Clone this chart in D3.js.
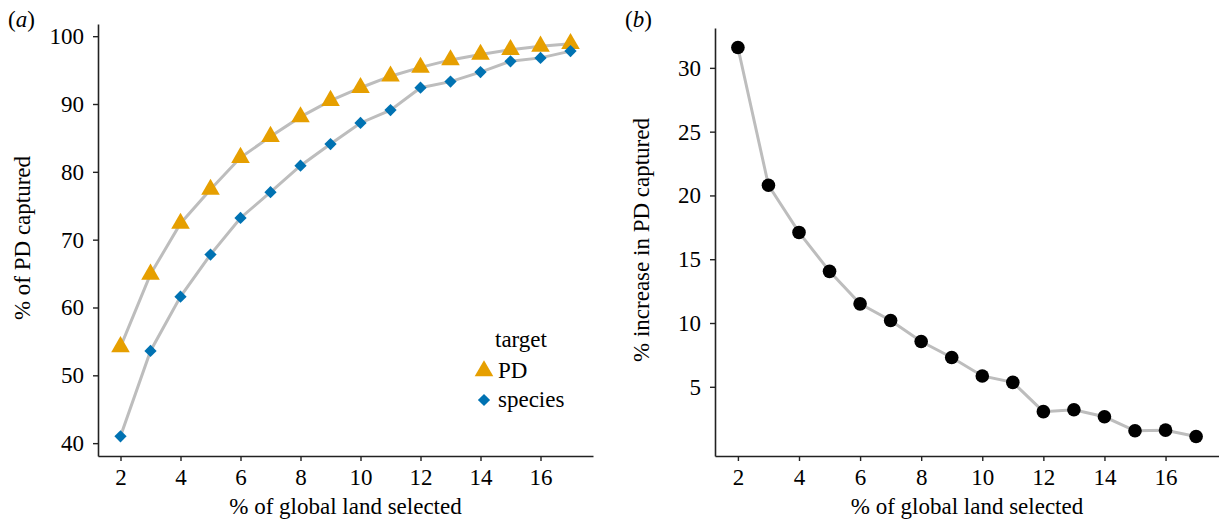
<!DOCTYPE html>
<html>
<head>
<meta charset="utf-8">
<script src="https://cdn.jsdelivr.net/npm/d3@7"></script>
<style>
  html body #chart text, html body #chart tspan { font-family: "Liberation Serif", "Times New Roman", Tinos, serif !important; }
</style>
</head>
<body style="margin:0">
<svg id="chart" width="1219" height="522" style="font-family: 'Liberation Serif', serif"></svg>
<script>
// % of global land selected
var landPct = [2, 3, 4, 5, 6, 7, 8, 9, 10, 11, 12, 13, 14, 15, 16, 17];
// panel a: % of PD captured, by target
var pdTarget      = [54.2, 64.9, 72.4, 77.4, 82.1, 85.2, 88.1, 90.5, 92.4, 94.1, 95.4, 96.5, 97.3, 98.0, 98.5, 98.9];
var speciesTarget = [41.0, 53.6, 61.6, 67.8, 73.2, 77.0, 80.9, 84.1, 87.2, 89.1, 92.4, 93.3, 94.7, 96.3, 96.8, 97.8];
// panel b: % increase in PD captured
var pdIncrease    = [31.6, 20.8, 17.1, 14.05, 11.5, 10.2, 8.55, 7.3, 5.85, 5.35, 3.05, 3.2, 2.65, 1.55, 1.6, 1.1];

var xTicks = [2, 4, 6, 8, 10, 12, 14, 16];
var yTicksA = [40, 50, 60, 70, 80, 90, 100];
var yTicksB = [5, 10, 15, 20, 25, 30];

var font = "'Liberation Serif', 'Times New Roman', Tinos, serif";
var fs = 23;

var diamond = {
  draw: function(ctx, size) {
    var r = Math.sqrt(size / 2);
    ctx.moveTo(0, -r); ctx.lineTo(r, 0); ctx.lineTo(0, r); ctx.lineTo(-r, 0); ctx.closePath();
  }
};

var seriesA = [
  {name: "PD", values: pdTarget, color: "#E69F00", shape: d3.symbolTriangle, size: 150},
  {name: "species", values: speciesTarget, color: "#0072B2", shape: diamond, size: 75}
];

var svg = d3.select("#chart");
var lineColor = "#bdbdbd";

// ggplot style 5% expansion
function padded(lo, hi) {
  var p = (hi - lo) * 0.05;
  return [lo - p, hi + p];
}

function label(sel) {
  return sel.attr("font-family", font)
    .attr("font-size", fs)
    .style("font-family", font, "important")
    .style("font-size", fs + "px");
}

function styleAxis(a) {
  a.attr("font-family", font).attr("font-size", fs);
  a.select(".domain").attr("stroke", "#222").attr("stroke-width", 1.6);
  a.selectAll(".tick line").attr("stroke", "#222").attr("stroke-width", 1.4);
  a.selectAll("text").call(label).attr("fill", "#000");
}

function drawAxes(g, x, y, yTicks, h) {
  g.append("g")
    .attr("transform", "translate(0," + h + ")")
    .call(d3.axisBottom(x).tickValues(xTicks).tickSize(5).tickSizeOuter(0).tickPadding(8))
    .call(styleAxis);
  g.append("g")
    .call(d3.axisLeft(y).tickValues(yTicks).tickSize(5).tickSizeOuter(0).tickPadding(9))
    .call(styleAxis);
}

// ---- panel a ----
var a = {left: 98, top: 24, width: 495, height: 432};
var xA = d3.scaleLinear().domain(padded(2, 17)).range([0, a.width]);
var yA = d3.scaleLinear().domain(padded(41.0, 98.9)).range([a.height, 0]);

var gA = svg.append("g").attr("transform", "translate(" + a.left + "," + a.top + ")");
drawAxes(gA, xA, yA, yTicksA, a.height);

var lineA = d3.line()
  .x(function(d, i) { return xA(landPct[i]); })
  .y(function(d) { return yA(d); });

seriesA.forEach(function(s) {
  gA.append("path")
    .attr("d", lineA(s.values))
    .attr("fill", "none")
    .attr("stroke", lineColor)
    .attr("stroke-width", 3);
});
seriesA.forEach(function(s) {
  gA.selectAll(null)
    .data(s.values)
    .enter().append("path")
    .attr("d", d3.symbol().type(s.shape).size(s.size))
    .attr("transform", function(d, i) { return "translate(" + xA(landPct[i]) + "," + yA(d) + ")"; })
    .attr("fill", s.color);
});

svg.append("text").attr("x", 8).attr("y", 27).call(label)
  .html('(<tspan font-style="italic">a</tspan>)');

svg.append("text")
  .attr("x", a.left + a.width / 2).attr("y", 514)
  .attr("text-anchor", "middle").call(label)
  .text("% of global land selected");

svg.append("text")
  .attr("transform", "translate(30,238) rotate(-90)")
  .attr("text-anchor", "middle").call(label)
  .text("% of PD captured");

// legend
var legend = svg.append("g").attr("transform", "translate(484,347)");
legend.append("text").attr("x", 11).attr("y", 0).call(label).text("target");
seriesA.forEach(function(s, i) {
  var yy = 31 + i * 29;
  legend.append("path")
    .attr("d", d3.symbol().type(s.shape).size(s.size))
    .attr("transform", "translate(0," + (yy - 7) + ")")
    .attr("fill", s.color);
  legend.append("text").attr("x", 14).attr("y", yy).call(label).text(s.name);
});

// ---- panel b ----
var b = {left: 715, top: 28, width: 504, height: 428};
var xB = d3.scaleLinear().domain(padded(2, 17)).range([0, b.width]);
var yB = d3.scaleLinear().domain(padded(1.1, 31.6)).range([b.height, 0]);

var gB = svg.append("g").attr("transform", "translate(" + b.left + "," + b.top + ")");
drawAxes(gB, xB, yB, yTicksB, b.height);

gB.append("path")
  .attr("d", d3.line()
    .x(function(d, i) { return xB(landPct[i]); })
    .y(function(d) { return yB(d); })(pdIncrease))
  .attr("fill", "none")
  .attr("stroke", lineColor)
  .attr("stroke-width", 3);

gB.selectAll("circle")
  .data(pdIncrease)
  .enter().append("circle")
  .attr("cx", function(d, i) { return xB(landPct[i]); })
  .attr("cy", function(d) { return yB(d); })
  .attr("r", 6.8)
  .attr("fill", "#000");

svg.append("text").attr("x", 625).attr("y", 27).call(label)
  .html('(<tspan font-style="italic">b</tspan>)');

svg.append("text")
  .attr("x", b.left + b.width / 2).attr("y", 514)
  .attr("text-anchor", "middle").call(label)
  .text("% of global land selected");

svg.append("text")
  .attr("transform", "translate(649,240) rotate(-90)")
  .attr("text-anchor", "middle").call(label)
  .text("% increase in PD captured");
</script>
</body>
</html>
